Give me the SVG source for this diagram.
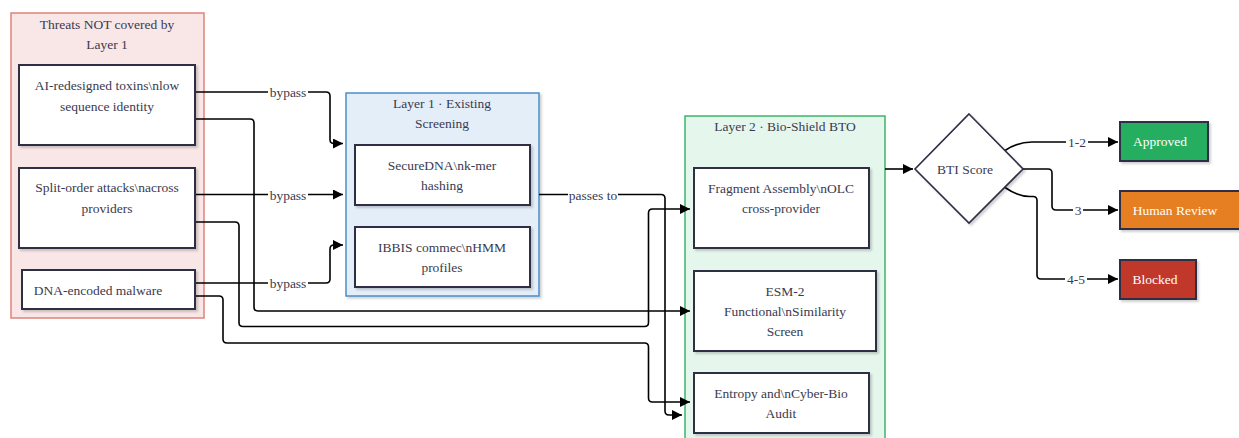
<svg xmlns="http://www.w3.org/2000/svg" width="1239" height="438" viewBox="0 0 1239 438" font-family="'Liberation Serif', 'DejaVu Serif', serif">
  <style>
    text { font-family: "Liberation Serif", "DejaVu Serif", serif; font-size: 13.5px; fill: #3a3a50; text-anchor: middle; }
    .box { fill: #ffffff; stroke: #2d2d44; stroke-width: 2; filter: url(#shadow); }
    .wire { fill: none; stroke: #000000; stroke-width: 1.6; }
    .arrow { marker-end: url(#head); }
    .lbl-bg { fill: #ffffff; }
    .white { fill: #ffffff; }
  </style>
  <defs>
    <filter id="shadow" x="-10%" y="-10%" width="130%" height="130%">
      <feDropShadow dx="2" dy="2" stdDeviation="1.2" flood-color="#000000" flood-opacity="0.18"/>
    </filter>
    <marker id="head" viewBox="0 0 10 10" refX="10" refY="5" markerWidth="10" markerHeight="10" markerUnits="userSpaceOnUse" orient="auto">
      <path d="M0,0 L10,5 L0,10 Z" fill="#000000"/>
    </marker>
  </defs>

  <!-- Containers -->
  <g id="threats">
    <rect x="11" y="13" width="193" height="305" fill="#f9e6e6" stroke="#e0837b" stroke-width="1.5"/>
    <text x="107" y="29">Threats NOT covered by</text>
    <text x="107" y="49">Layer 1</text>
  </g>
  <g id="layer1">
    <rect x="346" y="93" width="193" height="203" fill="#e4eef9" stroke="#4a8ec9" stroke-width="1.5" filter="url(#shadow)"/>
    <text x="442" y="108">Layer 1 · Existing</text>
    <text x="442" y="128">Screening</text>
  </g>
  <g id="layer2">
    <rect x="685" y="116" width="200" height="335" fill="#e5f7ec" stroke="#3bb66a" stroke-width="1.5"/>
    <text x="785" y="131">Layer 2 · Bio-Shield BTO</text>
  </g>

  <!-- Connectors -->
  <g id="connectors">
    <path class="wire arrow" d="M195,92 L326,92 Q330,92 330,96 L330,139.5 Q330,143.5 334,143.5 L343,143.5"/>
    <path class="wire arrow" d="M195,194.5 L343,194.5"/>
    <path class="wire arrow" d="M195,283 L326,283 Q330,283 330,279 L330,249 Q330,245 334,245 L343,245"/>
    <path class="wire arrow" d="M195,119 L250,119 Q254,119 254,123 L254,307 Q254,311 258,311 L690,311"/>
    <path class="wire arrow" d="M195,222 L235,222 Q239,222 239,226 L239,322.5 Q239,326.5 243,326.5 L644.5,326.5 Q648.5,326.5 648.5,322.5 L648.5,213 Q648.5,209 652.5,209 L690,209"/>
    <path class="wire arrow" d="M195,296 L219,296 Q223,296 223,300 L223,339 Q223,343 227,343 L644.5,343 Q648.5,343 648.5,347 L648.5,398 Q648.5,402 652.5,402 L690,402"/>
    <path class="wire arrow" d="M539,194.5 L661,194.5 Q665,194.5 665,198.5 L665,411 Q665,415 669,415 L682,415"/>
    <path class="wire arrow" d="M885,169 L913,169"/>
    <path class="wire arrow" d="M1005,150.5 C1013,145 1020,142 1032,142 L1118,142"/>
    <path class="wire arrow" d="M1023,169 L1048,169 Q1052,169 1052,173 L1052,206 Q1052,210 1056,210 L1118,210"/>
    <path class="wire arrow" d="M1005,187.5 C1013,193 1020,196.5 1030,196.5 L1033,196.5 Q1037,196.5 1037,200.5 L1037,275 Q1037,279 1041,279 L1118,279"/>

    <rect class="lbl-bg" x="268" y="84" width="40" height="16"/>
    <text x="288" y="97">bypass</text>
    <rect class="lbl-bg" x="268" y="186.5" width="40" height="16"/>
    <text x="288" y="199.5">bypass</text>
    <rect class="lbl-bg" x="268" y="275" width="40" height="16"/>
    <text x="288" y="288">bypass</text>
    <rect class="lbl-bg" x="568" y="186.5" width="50" height="16"/>
    <text x="593" y="199.5">passes to</text>
    <rect class="lbl-bg" x="1066" y="134" width="22" height="16"/>
    <text x="1077" y="147">1-2</text>
    <rect class="lbl-bg" x="1073" y="202" width="10" height="16"/>
    <text x="1078" y="215">3</text>
    <rect class="lbl-bg" x="1065" y="271" width="22" height="16"/>
    <text x="1076" y="284">4-5</text>
  </g>

  <!-- Threat nodes -->
  <g id="t-ai">
    <rect class="box" x="19" y="65" width="176" height="80"/>
    <text x="107" y="90">AI-redesigned toxins\nlow</text>
    <text x="107" y="111">sequence identity</text>
  </g>
  <g id="t-split">
    <rect class="box" x="19" y="168" width="176" height="80"/>
    <text x="107" y="192">Split-order attacks\nacross</text>
    <text x="107" y="213">providers</text>
  </g>
  <g id="t-malware">
    <rect class="box" x="22" y="270" width="173" height="39"/>
    <text x="98" y="295">DNA-encoded malware</text>
  </g>

  <!-- Layer 1 nodes -->
  <g id="securedna">
    <rect class="box" x="355" y="145" width="175" height="60"/>
    <text x="442" y="170">SecureDNA\nk-mer</text>
    <text x="442" y="190">hashing</text>
  </g>
  <g id="ibbis">
    <rect class="box" x="355" y="227" width="175" height="60"/>
    <text x="442" y="251.5">IBBIS commec\nHMM</text>
    <text x="442" y="272">profiles</text>
  </g>

  <!-- Layer 2 nodes -->
  <g id="fragment">
    <rect class="box" x="694" y="168" width="175" height="80"/>
    <text x="781" y="193">Fragment Assembly\nOLC</text>
    <text x="781" y="213">cross-provider</text>
  </g>
  <g id="esm2">
    <rect class="box" x="694" y="271" width="182" height="80"/>
    <text x="785" y="295.5">ESM-2</text>
    <text x="785" y="316">Functional\nSimilarity</text>
    <text x="785" y="336">Screen</text>
  </g>
  <g id="entropy">
    <rect class="box" x="694" y="373" width="175" height="60"/>
    <text x="781" y="398">Entropy and\nCyber-Bio</text>
    <text x="781" y="418">Audit</text>
  </g>

  <!-- Decision -->
  <g id="bti">
    <polygon points="969,114 1023,169 969,223 915,169" fill="#ffffff" stroke="#2d2d44" stroke-width="1.6" filter="url(#shadow)"/>
    <text x="965" y="174">BTI Score</text>
  </g>

  <!-- Outcomes -->
  <g id="approved">
    <rect class="box" x="1120" y="122" width="88" height="39" style="fill:#27ae60"/>
    <text class="white" x="1160" y="146">Approved</text>
  </g>
  <g id="review">
    <rect class="box" x="1120" y="191" width="130" height="38" style="fill:#e67e22"/>
    <text class="white" x="1175" y="215">Human Review</text>
  </g>
  <g id="blocked">
    <rect class="box" x="1120" y="260" width="76" height="39" style="fill:#c0392b"/>
    <text class="white" x="1155" y="284">Blocked</text>
  </g>
</svg>
